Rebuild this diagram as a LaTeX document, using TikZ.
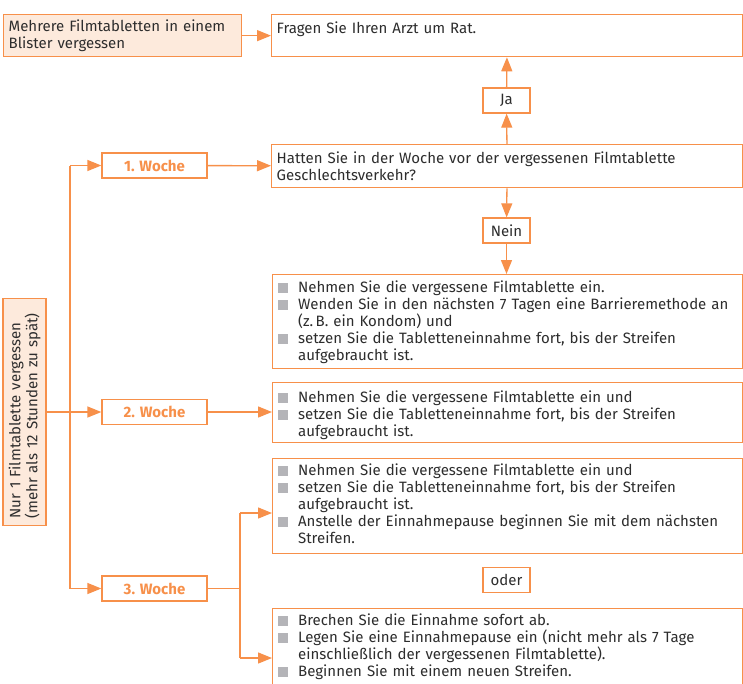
\documentclass[tikz,border=0pt]{standalone}
\usepackage{fontspec}
\setmainfont{Fira Sans}
\usetikzlibrary{arrows.meta}
\definecolor{orng}{RGB}{247,144,74}
\definecolor{peach}{RGB}{253,234,220}
\definecolor{txt}{RGB}{45,45,45}
\definecolor{bulg}{RGB}{180,180,184}
\lefthyphenmin=64
\hyphenpenalty=10000
\newcommand{\bit}[1]{\par\noindent\hangindent=20.5pt\hangafter=1\makebox[20.5pt][l]{\textcolor{bulg}{\rule{10.5pt}{10pt}}}#1\par}
\newcommand{\extdepth}[1]{\rule[-#1]{0pt}{1pt}}
\tikzset{
  box/.style={draw=orng, line width=1.3pt, inner xsep=5pt, inner ysep=0pt, align=left, text=txt,
    font=\fontsize{15}{17}\selectfont},
  nwbox/.style={box, anchor=north west},
  wk/.style={draw=orng, line width=1.3pt, minimum width=105pt, minimum height=25pt, inner sep=0pt,
    text=orng, font=\fontsize{15}{17}\selectfont\bfseries},
  small/.style={draw=orng, line width=1.3pt, minimum width=47pt, minimum height=25pt, inner sep=0pt,
    text=txt, font=\fontsize{15}{17}\selectfont},
  conn/.style={draw=orng, line width=1.3pt, -{Triangle[length=14pt,width=11pt]}},
  plain/.style={draw=orng, line width=1.3pt}
}
\begin{document}
\begin{tikzpicture}[x=1pt,y=-1pt]
\useasboundingbox[fill=white] (0,0) rectangle (743,683);
\clip (0,0) rectangle (743,683);
% top row
\node[nwbox, fill=peach, text width=228pt, minimum height=42pt] (mehrere) at (3,14)
  {Mehrere Filmtabletten in einem\\Blister vergessen};
\node[nwbox, text width=461pt, minimum height=42pt] (fragen) at (271,14)
  {Fragen Sie Ihren Arzt um Rat.\\\mbox{}};
\node[small] (ja) at (506.5,100.5) {Ja};
\node[nwbox, text width=461pt, minimum height=43pt] (hatten) at (271,144)
  {Hatten Sie in der Woche vor der vergessenen Filmtablette\\Geschlechtsverkehr?};
\node[small] (nein) at (506.5,230.5) {Nein};
% left column
\node[box, fill=peach, rotate=90, text width=213pt, minimum height=43pt, inner xsep=7pt] (nur) at (24.5,412)
  {Nur 1 Filmtablette vergessen\\(mehr als 12 Stunden zu spät)};
\node[wk] (w1) at (154.5,165.5) {1. Woche};
\node[wk] (w2) at (154.5,412) {2. Woche};
\node[wk] (w3) at (154.5,588.5) {3. Woche};
% right boxes
\node[nwbox, text width=460pt, minimum height=94pt] (b1) at (272,274)
  {\bit{Nehmen Sie die vergessene Filmtablette ein.}
   \bit{Wenden Sie in den nächsten 7 Tagen eine Barrieremethode an (z.\,B. ein Kondom) und}
   \bit{setzen Sie die Tabletteneinnahme fort, bis der Streifen aufgebraucht ist.\extdepth{7pt}}};
\node[nwbox, text width=460pt, minimum height=60pt] (b2) at (272,382)
  {\bit{Nehmen Sie die vergessene Filmtablette ein und}
   \bit{setzen Sie die Tabletteneinnahme fort, bis der Streifen aufgebraucht ist.}};
\node[nwbox, text width=460pt, minimum height=95pt] (b3) at (272,458)
  {\bit{Nehmen Sie die vergessene Filmtablette ein und}
   \bit{setzen Sie die Tabletteneinnahme fort, bis der Streifen aufgebraucht ist.}
   \bit{Anstelle der Einnahmepause beginnen Sie mit dem nächsten Streifen.\extdepth{10pt}}};
\node[small] (oder) at (506.5,580) {oder};
\node[nwbox, text width=460pt, minimum height=86pt] (b4) at (272,608)
  {\bit{Brechen Sie die Einnahme sofort ab.}
   \bit{Legen Sie eine Einnahmepause ein (nicht mehr als 7 Tage einschließlich der vergessenen Filmtablette).}
   \bit{Beginnen Sie mit einem neuen Streifen.\extdepth{19pt}}};
% connectors
\draw[conn] (mehrere) -- (fragen);
\draw[conn] (hatten) -- (ja);
\draw[conn] (ja) -- (fragen);
\draw[conn] (hatten) -- (nein);
\draw[conn] (nein) -- (b1.north -| nein);
\coordinate (tT) at (70,165.5);
\coordinate (tB) at (70,588.5);
\draw[plain] (tT) -- (tB);
\draw[conn] (tT) -- (w1);
\draw[conn] (tB) -- (w3);
\draw[conn] (nur.south) -- (w2);
\draw[conn] (w1) -- (hatten);
\draw[conn] (w2) -- (w2 -| b2.west);
\coordinate (sp) at (240,588.5);
\coordinate (s3) at (240,513);
\coordinate (s4) at (240,658);
\draw[plain] (w3.east) -- (sp);
\draw[plain] (s3) -- (s4);
\draw[conn] (s3) -- (s3 -| b3.west);
\draw[conn] (s4) -- (s4 -| b4.west);
\end{tikzpicture}
\end{document}
